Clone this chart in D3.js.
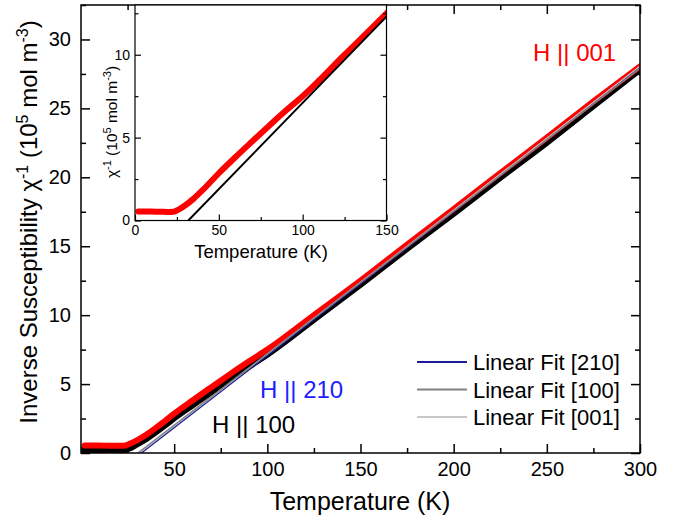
<!DOCTYPE html>
<html>
<head>
<meta charset="utf-8">
<script src="https://cdn.jsdelivr.net/npm/d3@7"></script>
<style>
	body { margin: 0; background: #fff; }
	text { font-family: "Liberation Sans", Arial, sans-serif; }
</style>
</head>
<body>
<div class="container"></div>
<script>

var temps  = [2, 5, 10, 15, 20, 23, 26, 30, 35, 40, 45, 50, 60, 70, 80, 90, 100, 125, 150, 175, 200, 225, 250, 275, 300];
var chi001 = [0.55, 0.55, 0.54, 0.53, 0.52, 0.53, 0.66, 0.92, 1.32, 1.8, 2.32, 2.85, 3.83, 4.78, 5.72, 6.63, 7.5, 10.0, 12.5, 15.12, 17.7, 20.3, 22.88, 25.5, 28.05];
var chi100 = [0.28, 0.28, 0.27, 0.26, 0.25, 0.27, 0.4, 0.7, 1.1, 1.57, 2.08, 2.6, 3.56, 4.5, 5.43, 6.33, 7.22, 9.75, 12.3, 14.9, 17.45, 20.05, 22.6, 25.25, 27.9];
var chi210 = [0.25, 0.25, 0.24, 0.23, 0.22, 0.24, 0.36, 0.65, 1.05, 1.52, 2.03, 2.55, 3.5, 4.45, 5.38, 6.28, 7.17, 9.7, 12.25, 14.85, 17.4, 20.0, 22.55, 25.2, 27.85];

// linear fits, end points
var fit210T = [32.5, 300], fit210Y = [0, 27.95];
var fit100T = [30.5, 300], fit100Y = [0, 27.9];
var fit001T = [31.5, 300], fit001Y = [0, 28.05];
var insetFitT = [31.8, 150], insetFitY = [0, 12.3];

var xTicks = [50, 100, 150, 200, 250, 300];
var xMinor = [25, 75, 125, 175, 225, 275];
var yTicks = [0, 5, 10, 15, 20, 25, 30];
var yMinor = [2.5, 7.5, 12.5, 17.5, 22.5, 27.5, 32.5];
var ixTicks = [0, 50, 100, 150];
var ixMinor = [25, 75, 125];
var iyTicks = [0, 5, 10];
var iyMinor = [2.5, 7.5, 12.5];

var legendNames = ["Linear Fit [210]", "Linear Fit [100]", "Linear Fit [001]"];
var legendColors = ["#1c1c96", "#808080", "#c8c8c8"];

function makeStage(w, h) {
	var stage = d3.select(".container")
		.insert("svg")
		.attr("width", w)
		.attr("height", h);
	return stage;
}

function pts(ts, vs) {
	return ts.map(function(t, i) { return [t, vs[i]]; });
}

function noDomain(a) { a.select(".domain").remove(); }

function drawAxes(g, x, y, o) {
	var x0 = x.range()[0], x1 = x.range()[1], y0 = y.range()[0], y1 = y.range()[1];
	g.append("g").attr("transform", "translate(0," + y0 + ")")
		.call(d3.axisBottom(x).tickValues(o.xt).tickSizeInner(-o.major).tickSizeOuter(0).tickPadding(o.xpad))
		.call(noDomain);
	g.append("g").attr("transform", "translate(0," + y0 + ")")
		.call(d3.axisBottom(x).tickValues(o.xm).tickSize(-o.minor).tickFormat(""))
		.call(noDomain);
	g.append("g").attr("transform", "translate(" + x0 + ",0)")
		.call(d3.axisLeft(y).tickValues(o.yt).tickSizeInner(-o.major).tickSizeOuter(0).tickPadding(o.ypad))
		.call(noDomain);
	g.append("g").attr("transform", "translate(" + x0 + ",0)")
		.call(d3.axisLeft(y).tickValues(o.ym).tickSize(-o.minor).tickFormat(""))
		.call(noDomain);
	// right and top ticks
	g.append("g").attr("transform", "translate(" + x1 + ",0)")
		.call(d3.axisRight(y).tickValues(o.yt).tickSize(-o.major).tickFormat(""))
		.call(noDomain);
	g.append("g").attr("transform", "translate(" + x1 + ",0)")
		.call(d3.axisRight(y).tickValues(o.ym).tickSize(-o.minor).tickFormat(""))
		.call(noDomain);
	if (o.top) {
		g.append("g").attr("transform", "translate(0," + y1 + ")")
			.call(d3.axisTop(x).tickValues(o.xt).tickSize(-o.major).tickFormat(""))
			.call(noDomain);
		g.append("g").attr("transform", "translate(0," + y1 + ")")
			.call(d3.axisTop(x).tickValues(o.xm).tickSize(-o.minor).tickFormat(""))
			.call(noDomain);
	}
	g.selectAll(".tick line").attr("stroke", "#000").attr("stroke-width", o.sw);
	g.selectAll(".tick text").style("font-size", o.font + "px").attr("fill", "#000");
	g.append("rect")
		.attr("x", x0).attr("y", y1)
		.attr("width", x1 - x0).attr("height", y0 - y1)
		.attr("fill", "none").attr("stroke", "#000").attr("stroke-width", o.sw);
}

var stage = makeStage(683, 520);

// ---------- main plot ----------
var x = d3.scaleLinear().domain([0, 300]).range([81, 640]);
var y = d3.scaleLinear().domain([0, 32.5]).range([453, 5]);

stage.append("clipPath").attr("id", "mainclip")
	.append("rect").attr("x", 81).attr("y", 5).attr("width", 559).attr("height", 448);

var line = d3.line().x(function(d) { return x(d[0]); }).y(function(d) { return y(d[1]); }).curve(d3.curveMonotoneX);
var plot = stage.append("g").attr("clip-path", "url(#mainclip)");

plot.append("path").datum(pts(temps, chi210)).attr("d", line)
	.attr("fill", "none").attr("stroke", "#2020ff").attr("stroke-width", 6).attr("stroke-linecap", "round");
plot.append("path").datum(pts(temps, chi100)).attr("d", line)
	.attr("fill", "none").attr("stroke", "#000").attr("stroke-width", 8).attr("stroke-linecap", "round");
plot.append("path").datum(pts(temps, chi001)).attr("d", line)
	.attr("fill", "none").attr("stroke", "#ff0000").attr("stroke-width", 6).attr("stroke-linecap", "round");

var fitLine = d3.line().x(function(d) { return x(d[0]); }).y(function(d) { return y(d[1]); });
plot.append("path").datum(pts(fit001T, fit001Y)).attr("d", fitLine)
	.attr("fill", "none").attr("stroke", legendColors[2]).attr("stroke-width", 1.5);
plot.append("path").datum(pts(fit210T, fit210Y)).attr("d", fitLine)
	.attr("fill", "none").attr("stroke", legendColors[0]).attr("stroke-width", 1.2);
plot.append("path").datum(pts(fit100T, fit100Y)).attr("d", fitLine)
	.attr("fill", "none").attr("stroke", legendColors[1]).attr("stroke-width", 1.5);

drawAxes(stage.append("g"), x, y, {xt: xTicks, xm: xMinor, yt: yTicks, ym: yMinor, major: 9, minor: 5, xpad: 9, ypad: 10, font: 20, sw: 1.5, top: true});

// axis titles
stage.append("text").attr("x", 360).attr("y", 510).attr("text-anchor", "middle")
	.style("font-size", "25px").text("Temperature (K)");

var yl = stage.append("text").attr("transform", "translate(37,222) rotate(-90)")
	.attr("text-anchor", "middle").style("font-size", "24px");
yl.append("tspan").text("Inverse Susceptibility \u03c7");
yl.append("tspan").attr("dy", -9).style("font-size", "16px").text("-1");
yl.append("tspan").attr("dy", 9).text(" (10");
yl.append("tspan").attr("dy", -9).style("font-size", "16px").text("5");
yl.append("tspan").attr("dy", 9).text(" mol m");
yl.append("tspan").attr("dy", -9).style("font-size", "16px").text("-3");
yl.append("tspan").attr("dy", 9).text(")");

// series labels
stage.append("text").attr("x", 533).attr("y", 61).attr("fill", "#ff0000").style("font-size", "24px").text("H || 001");
stage.append("text").attr("x", 260).attr("y", 398).attr("fill", "#2020ff").style("font-size", "24px").text("H || 210");
stage.append("text").attr("x", 212).attr("y", 433).attr("fill", "#000").style("font-size", "24px").text("H || 100");

// legend
var leg = stage.append("g").selectAll("g").data(legendNames).join("g")
	.attr("transform", function(d, i) { return "translate(417," + (362 + i * 27.5) + ")"; });
leg.append("line").attr("x1", 0).attr("x2", 50).attr("y1", 0).attr("y2", 0)
	.attr("stroke", function(d, i) { return legendColors[i]; }).attr("stroke-width", 2);
leg.append("text").attr("x", 56).attr("y", 8).style("font-size", "22px").text(function(d) { return d; });

// ---------- inset ----------
var ix = d3.scaleLinear().domain([0, 150]).range([135, 386.5]);
var iy = d3.scaleLinear().domain([0, 13]).range([220.5, 5]);

stage.append("rect").attr("x", 135).attr("y", 5).attr("width", 251.5).attr("height", 215.5).attr("fill", "#fff");
stage.append("clipPath").attr("id", "insetclip")
	.append("rect").attr("x", 135).attr("y", 5).attr("width", 251.5).attr("height", 215.5);

var iline = d3.line().x(function(d) { return ix(d[0]); }).y(function(d) { return iy(d[1]); }).curve(d3.curveMonotoneX);
var inset = stage.append("g").attr("clip-path", "url(#insetclip)");
inset.append("path").datum(pts(temps, chi001)).attr("d", iline)
	.attr("fill", "none").attr("stroke", "#ff0000").attr("stroke-width", 6).attr("stroke-linecap", "round");
inset.append("path").datum(pts(insetFitT, insetFitY)).attr("d", iline)
	.attr("fill", "none").attr("stroke", "#000").attr("stroke-width", 2);

drawAxes(stage.append("g"), ix, iy, {xt: ixTicks, xm: ixMinor, yt: iyTicks, ym: iyMinor, major: 6, minor: 3.5, xpad: 5, ypad: 5, font: 14, sw: 1.2, top: false});

stage.append("text").attr("x", 261).attr("y", 258).attr("text-anchor", "middle")
	.style("font-size", "18.5px").text("Temperature (K)");

var il = stage.append("text").attr("transform", "translate(117,122) rotate(-90)")
	.attr("text-anchor", "middle").style("font-size", "15.5px");
il.append("tspan").text("\u03c7");
il.append("tspan").attr("dy", -6).style("font-size", "11px").text("-1");
il.append("tspan").attr("dy", 6).text(" (10");
il.append("tspan").attr("dy", -6).style("font-size", "11px").text("5");
il.append("tspan").attr("dy", 6).text(" mol m");
il.append("tspan").attr("dy", -6).style("font-size", "11px").text("-3");
il.append("tspan").attr("dy", 6).text(")");

</script>
</body>
</html>
